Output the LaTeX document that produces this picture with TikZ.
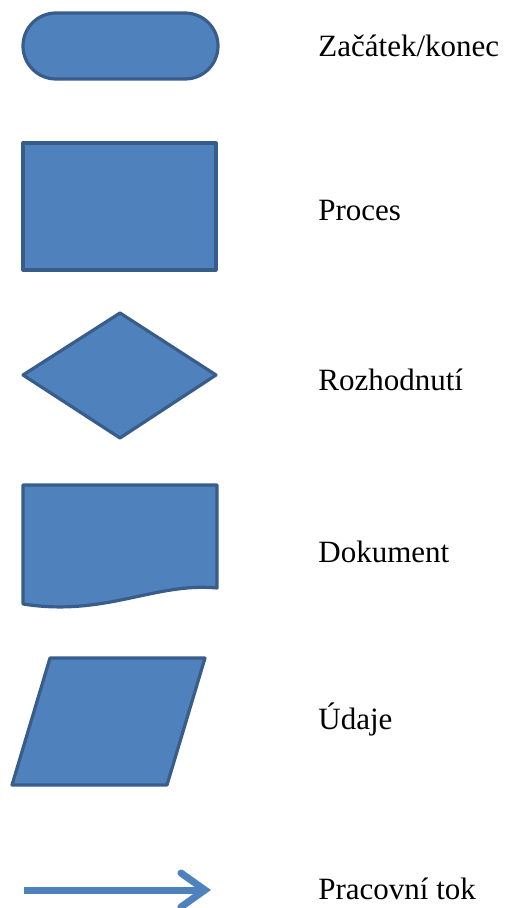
\documentclass[tikz,border=0pt]{standalone}
\usepackage{fontspec}
\setmainfont{Liberation Serif}
\usetikzlibrary{arrows.meta}

\definecolor{shapefill}{RGB}{79,129,189}
\definecolor{shapeline}{RGB}{56,93,138}

\begin{document}
\begin{tikzpicture}[x=0.5pt,y=-0.5pt,
    symbol/.style={fill=shapefill,draw=shapeline,line width=1.6pt,line join=round},
    legend/.style={anchor=west,inner sep=0pt,font=\fontsize{15.5}{18}\selectfont}]
        \useasboundingbox (0,0) rectangle (504,908);
        % start / end
        \draw[symbol,rounded corners=16.5pt] (23,13) rectangle (218,79);
        \node[legend] (start) at (318,46) {Začátek/konec};
        % process
        \draw[symbol] (23,143) rectangle (216,270);
        \node[legend] (process) at (318,211) {Proces};
        % decision
        \draw[symbol] (23,375) -- (120,313) -- (216,375) -- (120,438) -- cycle;
        \node[legend] (decision) at (318,380) {Rozhodnutí};
        % document with wavy bottom
        \draw[symbol] (23,485) -- (217,485) -- (217,588)
            .. controls (155,582) and (105,617) .. (23,604) -- cycle;
        \node[legend] (document) at (318,552) {Dokument};
        % data
        \draw[symbol] (50,658) -- (205,658) -- (167,785) -- (12,785) -- cycle;
        \node[legend] (data) at (318,719) {Údaje};
        % flow
        \coordinate (flowA) at (24,890);
        \coordinate (flowB) at (211,890);
        \draw[draw=shapefill,line width=3.5pt,-{Straight Barb[length=12pt,width=17pt,line cap=round]}] (flowA) -- (flowB);
        \node[legend] (flow) at (318,889) {Pracovní tok};
\end{tikzpicture}
\end{document}
